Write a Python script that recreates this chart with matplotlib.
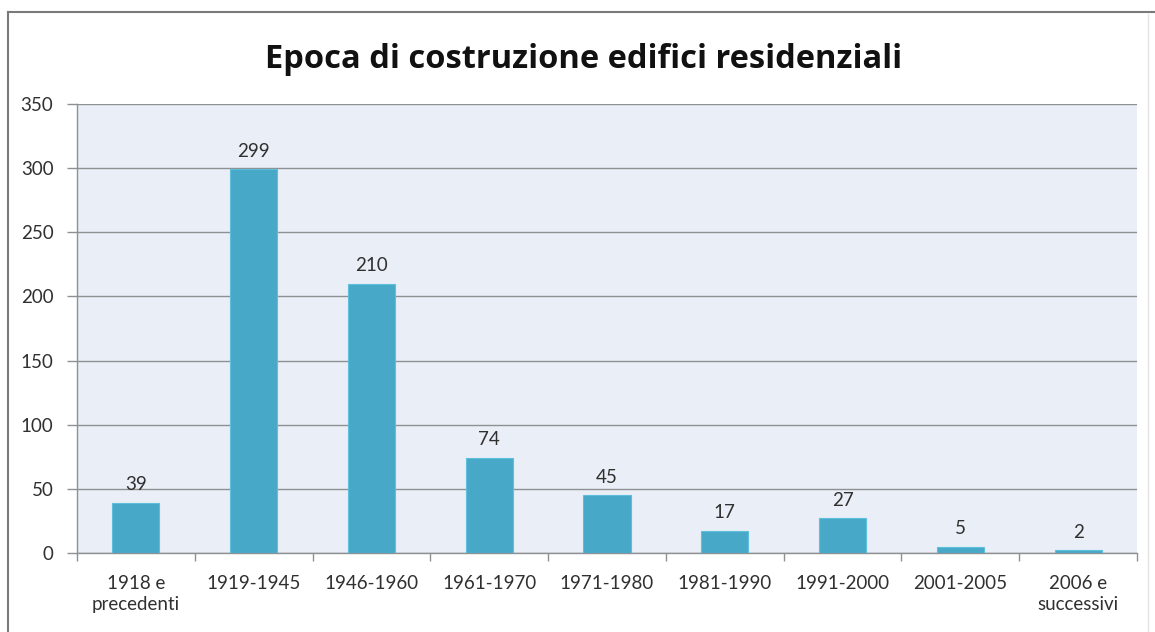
import matplotlib.pyplot as plt
from matplotlib.lines import Line2D
import numpy as np

plt.rcParams['font.family'] = ['Lato', 'DejaVu Sans']

periodi = ['1918 e\nprecedenti', '1919-1945', '1946-1960', '1961-1970', '1971-1980',
           '1981-1990', '1991-2000', '2001-2005', '2006 e\nsuccessivi']
edifici = [39, 299, 210, 74, 45, 17, 27, 5, 2]
y_ticks = [0, 50, 100, 150, 200, 250, 300, 350]

bar_col = '#47a9c7'
bg_col = '#eaeef6'
grid_col = '#8e9194'
txt_col = '#303030'

fig = plt.figure(figsize=(11.55, 6.32), dpi=100)
ax = fig.add_axes([0.0667, 0.125, 0.9177, 0.7104])
ax.set_facecolor(bg_col)

x = np.arange(len(periodi))
bars = ax.bar(x, edifici, width=0.4, color=bar_col, edgecolor='#5cc0dc', linewidth=0.8, zorder=3)
for b, v in zip(bars, edifici):
    ax.annotate(str(v), (b.get_x() + b.get_width() / 2, v), xytext=(0, 7),
                textcoords='offset points', ha='center', va='bottom',
                fontsize=13.5, color=txt_col, zorder=4)

ax.set_xlim(-0.5, len(periodi) - 0.5)
ax.set_ylim(0, 350)
ax.set_yticks(y_ticks)
ax.grid(axis='y', color=grid_col, linewidth=1, zorder=1)
ax.tick_params(axis='y', length=7, width=1, color=grid_col, labelsize=13.5,
               labelcolor=txt_col, pad=10)

ax.set_xticks(x)
ax.set_xticklabels(periodi, linespacing=1.3)
ax.set_xticks(np.arange(len(periodi) + 1) - 0.5, minor=True)
ax.tick_params(axis='x', which='major', length=0, labelsize=13.5, labelcolor=txt_col, pad=16)
ax.tick_params(axis='x', which='minor', length=6, width=1, color=grid_col)

for s in ['top', 'right']:
    ax.spines[s].set_visible(False)
for s in ['left', 'bottom']:
    ax.spines[s].set_color(grid_col)
    ax.spines[s].set_linewidth(1)

fig.text(0.505, 0.906, 'Epoca di costruzione edifici residenziali', ha='center', va='center',
         fontsize=23.5, fontweight='bold', color='#111111', family=['Open Sans', 'DejaVu Sans'])

# outer chart frame
fig.add_artist(Line2D([8 / 1155, 8 / 1155], [0, 1 - 12 / 632], color='#7a7a7a', linewidth=1.5))
fig.add_artist(Line2D([8 / 1155, 1], [1 - 12 / 632, 1 - 12 / 632], color='#7a7a7a', linewidth=1.5))
fig.add_artist(Line2D([1148 / 1155, 1148 / 1155], [0, 1 - 14 / 632], color='#e4e4e4', linewidth=1))

fig.savefig('out.png', dpi=100)
